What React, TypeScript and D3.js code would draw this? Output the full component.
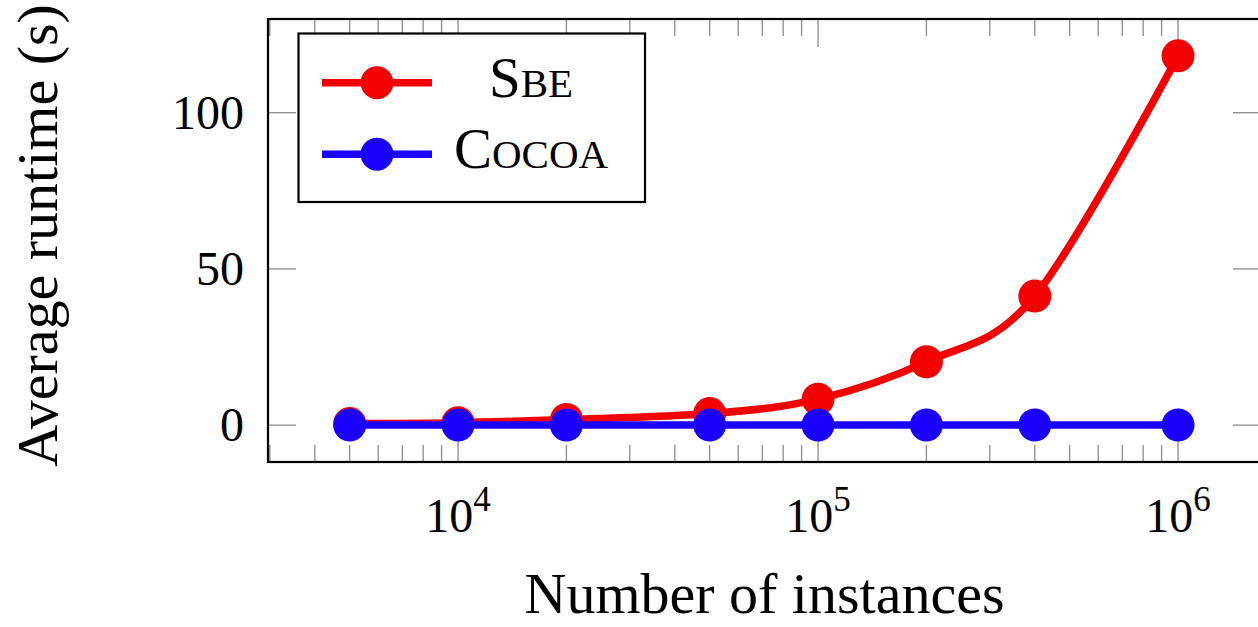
import React from 'react';
import * as d3 from 'd3';

// data
const instances = [5000, 10000, 20000, 50000, 100000, 200000, 400000, 1000000];
const sbeRuntime = [0.5, 0.8, 1.8, 3.7, 8.3, 20.3, 41.3, 118.2];
const cocoaRuntime = [0.05, 0.05, 0.05, 0.05, 0.05, 0.05, 0.05, 0.05];
const yTicks = [0, 50, 100];
const xMajorTicks = [1e4, 1e5, 1e6];
const xTickExponents = ['4', '5', '6'];

const W = 1258;
const H = 627;
const plot = { left: 268, right: 1261, top: 19, bottom: 462 };
const font = '"Liberation Serif", "Times New Roman", serif';

const series = [
  { name: 'S', small: 'BE', color: '#f50000', values: sbeRuntime },
  { name: 'C', small: 'OCOA', color: '#1a00ff', values: cocoaRuntime },
];

const App = () => {
  const x = d3.scaleLog().domain([2965, 1.7e6]).range([plot.left, plot.right]);
  const y = d3.scaleLinear().domain([-11.8, 130]).range([plot.bottom, plot.top]);

  // minor ticks 2..9 x 10^k inside the domain
  const minor: number[] = [];
  [1e3, 1e4, 1e5, 1e6].forEach(d => {
    for (let m = 2; m <= 9; m++) {
      const v = m * d;
      if (v > x.domain()[0] && v < x.domain()[1]) minor.push(v);
    }
  });

  const line = d3.line<number>()
    .x((d, i) => x(instances[i]))
    .y(d => y(d))
    .curve(d3.curveCardinal.tension(0));

  const tickColor = '#8a8a8a';
  const majorLen = 28;
  const minorLen = 17;

  return (
    <svg width={W} height={H} style={{ position: 'absolute', left: 0, top: 0, background: '#fff' }}>
      <defs>
        <clipPath id="plotClip">
          <rect x={plot.left} y={plot.top} width={plot.right - plot.left} height={plot.bottom - plot.top} />
        </clipPath>
      </defs>

      {/* ticks */}
      <g stroke={tickColor} strokeWidth={1.3}>
        {minor.map(v => (
          <g key={'m' + v}>
            <line x1={x(v)} x2={x(v)} y1={plot.bottom} y2={plot.bottom - minorLen} />
            <line x1={x(v)} x2={x(v)} y1={plot.top} y2={plot.top + minorLen} />
          </g>
        ))}
        {xMajorTicks.map(v => (
          <g key={'M' + v}>
            <line x1={x(v)} x2={x(v)} y1={plot.bottom} y2={plot.bottom - majorLen} />
            <line x1={x(v)} x2={x(v)} y1={plot.top} y2={plot.top + majorLen} />
          </g>
        ))}
        {yTicks.map(v => (
          <g key={'y' + v}>
            <line x1={plot.left} x2={plot.left + majorLen} y1={y(v)} y2={y(v)} />
            <line x1={plot.right} x2={plot.right - majorLen} y1={y(v)} y2={y(v)} />
          </g>
        ))}
      </g>

      {/* series */}
      <g clipPath="url(#plotClip)">
        {series.map(s => (
          <g key={s.name}>
            <path d={line(s.values) || ''} fill="none" stroke={s.color} strokeWidth={7.5} />
            {s.values.map((v, i) => (
              <circle key={i} cx={x(instances[i])} cy={y(v)} r={16.5} fill={s.color} />
            ))}
          </g>
        ))}
      </g>

      {/* frame */}
      <rect x={plot.left} y={plot.top} width={plot.right - plot.left} height={plot.bottom - plot.top}
        fill="none" stroke="#000" strokeWidth={2.2} />

      {/* legend */}
      <g>
        <rect x={298.5} y={33.5} width={346.5} height={168.5} fill="#fff" stroke="#000" strokeWidth={2.2} />
        {series.map((s, i) => {
          const cy = 82.7 + i * 71.5;
          return (
            <g key={'l' + s.name}>
              <line x1={322} x2={432} y1={cy} y2={cy} stroke={s.color} strokeWidth={7.5} />
              <circle cx={377} cy={cy} r={16.5} fill={s.color} />
              <text x={531} y={cy + 14} textAnchor="middle" fontFamily={font} fontSize={57}>
                {s.name}<tspan fontSize={41}>{s.small}</tspan>
              </text>
            </g>
          );
        })}
      </g>

      {/* y tick labels */}
      {yTicks.map(v => (
        <text key={'yl' + v} x={244} y={y(v) + 16} textAnchor="end" fontFamily={font} fontSize={48}>{v}</text>
      ))}

      {/* x tick labels */}
      {xMajorTicks.map((v, i) => (
        <text key={'xl' + v} x={x(v)} y={532} textAnchor="middle" fontFamily={font} fontSize={48}>
          10<tspan fontSize={35} dy={-21}>{xTickExponents[i]}</tspan>
        </text>
      ))}

      {/* axis titles */}
      <text x={(plot.left + plot.right) / 2} y={613} textAnchor="middle" fontFamily={font} fontSize={58}>
        Number of instances
      </text>
      <text transform={`translate(57, ${(plot.top + plot.bottom) / 2 - 5}) rotate(-90)`} textAnchor="middle"
        fontFamily={font} fontSize={58}>
        Average runtime (s)
      </text>
    </svg>
  );
};

export default App;
